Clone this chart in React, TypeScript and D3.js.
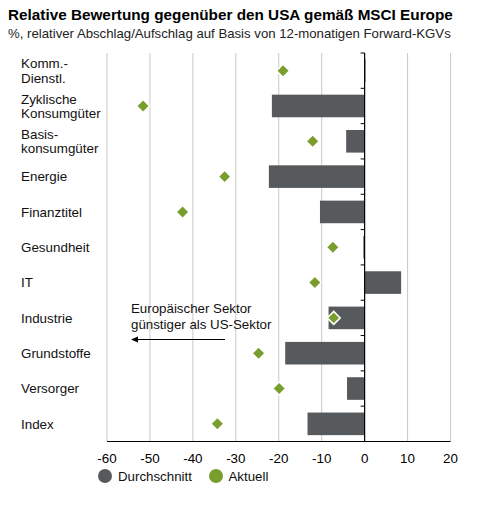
import { useEffect, useRef } from 'react'
import * as d3 from 'd3'

const categories = [
  'Komm.-|Dienstl.',
  'Zyklische|Konsumgüter',
  'Basis-|konsumgüter',
  'Energie',
  'Finanztitel',
  'Gesundheit',
  'IT',
  'Industrie',
  'Grundstoffe',
  'Versorger',
  'Index',
]
const durchschnitt = [0.2, -21.6, -4.3, -22.3, -10.4, -0.3, 8.5, -8.4, -18.5, -4.1, -13.3]
const aktuell = [-19.0, -51.6, -12.1, -32.6, -42.4, -7.4, -11.6, -7.2, -24.7, -19.9, -34.3]
const xTicks = [-60, -50, -40, -30, -20, -10, 0, 10, 20]

const GREY = '#575a5d'
const GREEN = '#7a9e2e'
const FONT = '"Liberation Sans", Arial, sans-serif'

export default function App() {
  const svgRef = useRef<SVGSVGElement>(null)

  useEffect(() => {
    const svg = d3.select(svgRef.current)
    svg.selectAll('*').remove()
    const W = 480, H = 509
    svg.attr('width', W).attr('height', H).style('font-family', FONT)
    svg.append('rect').attr('width', W).attr('height', H).attr('fill', '#fff')

    const x = d3.scaleLinear().domain([-60, 20]).range([107, 450.5])
    const y = d3.scaleBand().domain(categories).range([53, 441.5]).paddingInner(0.36).paddingOuter(0.18)
    const step = y.step()

    // title
    svg.append('text').attr('x', 8).attr('y', 20).attr('font-size', '15.3px').attr('font-weight', 'bold')
      .attr('fill', '#000').text('Relative Bewertung gegenüber den USA gemäß MSCI Europe')
    svg.append('text').attr('x', 8).attr('y', 38).attr('font-size', '13.2px').attr('fill', '#222')
      .text('%, relativer Abschlag/Aufschlag auf Basis von 12-monatigen Forward-KGVs')

    // grid
    xTicks.forEach((t) => {
      if (t === 0) return
      svg.append('line').attr('x1', x(t)).attr('x2', x(t)).attr('y1', 53).attr('y2', 441.5)
        .attr('stroke', '#c8c8c8').attr('stroke-width', 1)
    })

    // bars
    categories.forEach((c, i) => {
      const v = durchschnitt[i]
      svg.append('rect')
        .attr('x', x(Math.min(0, v))).attr('width', Math.abs(x(v) - x(0)))
        .attr('y', y(c)!).attr('height', y.bandwidth())
        .attr('fill', GREY)
    })

    // y axis with category ticks
    svg.append('line').attr('x1', x(0)).attr('x2', x(0)).attr('y1', 53).attr('y2', 441.5)
      .attr('stroke', '#000').attr('stroke-width', 1.2)
    d3.range(categories.length + 1).forEach((k) => {
      const yy = 53 + k * step
      svg.append('line').attr('x1', x(0) - 4).attr('x2', x(0)).attr('y1', yy).attr('y2', yy)
        .attr('stroke', '#000').attr('stroke-width', 1)
    })

    // x axis
    svg.append('line').attr('x1', x(-60)).attr('x2', x(20)).attr('y1', 441.5).attr('y2', 441.5)
      .attr('stroke', '#000').attr('stroke-width', 1.2)
    xTicks.forEach((t) => {
      svg.append('text').attr('x', x(t)).attr('y', 463).attr('text-anchor', 'middle')
        .attr('font-size', '13.4px').attr('fill', '#000').text(String(t))
    })

    // diamonds
    const dsize = 6.5
    categories.forEach((c, i) => {
      const cx = x(aktuell[i]), cy = y(c)! + y.bandwidth() / 2
      svg.append('path')
        .attr('d', `M${cx},${cy - dsize}L${cx + dsize},${cy}L${cx},${cy + dsize}L${cx - dsize},${cy}Z`)
        .attr('fill', GREEN).attr('stroke', '#fff').attr('stroke-width', 1.5)
    })

    // category labels
    categories.forEach((c) => {
      const lines = c.split('|')
      const cy = y(c)! + y.bandwidth() / 2
      const lh = 14.5
      lines.forEach((ln, j) => {
        const off = (j - (lines.length - 1) / 2) * lh
        svg.append('text').attr('x', 21).attr('y', cy + off + 4.8)
          .attr('font-size', '13.4px').attr('fill', '#111').text(ln)
      })
    })

    // annotation
    svg.append('text').attr('x', 131).attr('y', 313).attr('font-size', '13.3px').attr('fill', '#111')
      .text('Europäischer Sektor')
    svg.append('text').attr('x', 131).attr('y', 329).attr('font-size', '13.3px').attr('fill', '#111')
      .text('günstiger als US-Sektor')
    svg.append('line').attr('x1', 225).attr('x2', 136).attr('y1', 339.5).attr('y2', 339.5)
      .attr('stroke', '#000').attr('stroke-width', 1.2)
    svg.append('path').attr('d', 'M131,339.5L138,336.5L138,342.5Z').attr('fill', '#000')

    // legend
    const legend = [
      { label: 'Durchschnitt', color: GREY, cx: 105, tx: 118 },
      { label: 'Aktuell', color: GREEN, cx: 216, tx: 228.5 },
    ]
    legend.forEach((l) => {
      svg.append('circle').attr('cx', l.cx).attr('cy', 476).attr('r', 7).attr('fill', l.color)
      svg.append('text').attr('x', l.tx).attr('y', 481).attr('font-size', '13.3px').attr('fill', '#111')
        .text(l.label)
    })
  }, [])

  return <svg ref={svgRef} style={{ display: 'block', position: 'absolute', left: 0, top: 0 }} />
}
